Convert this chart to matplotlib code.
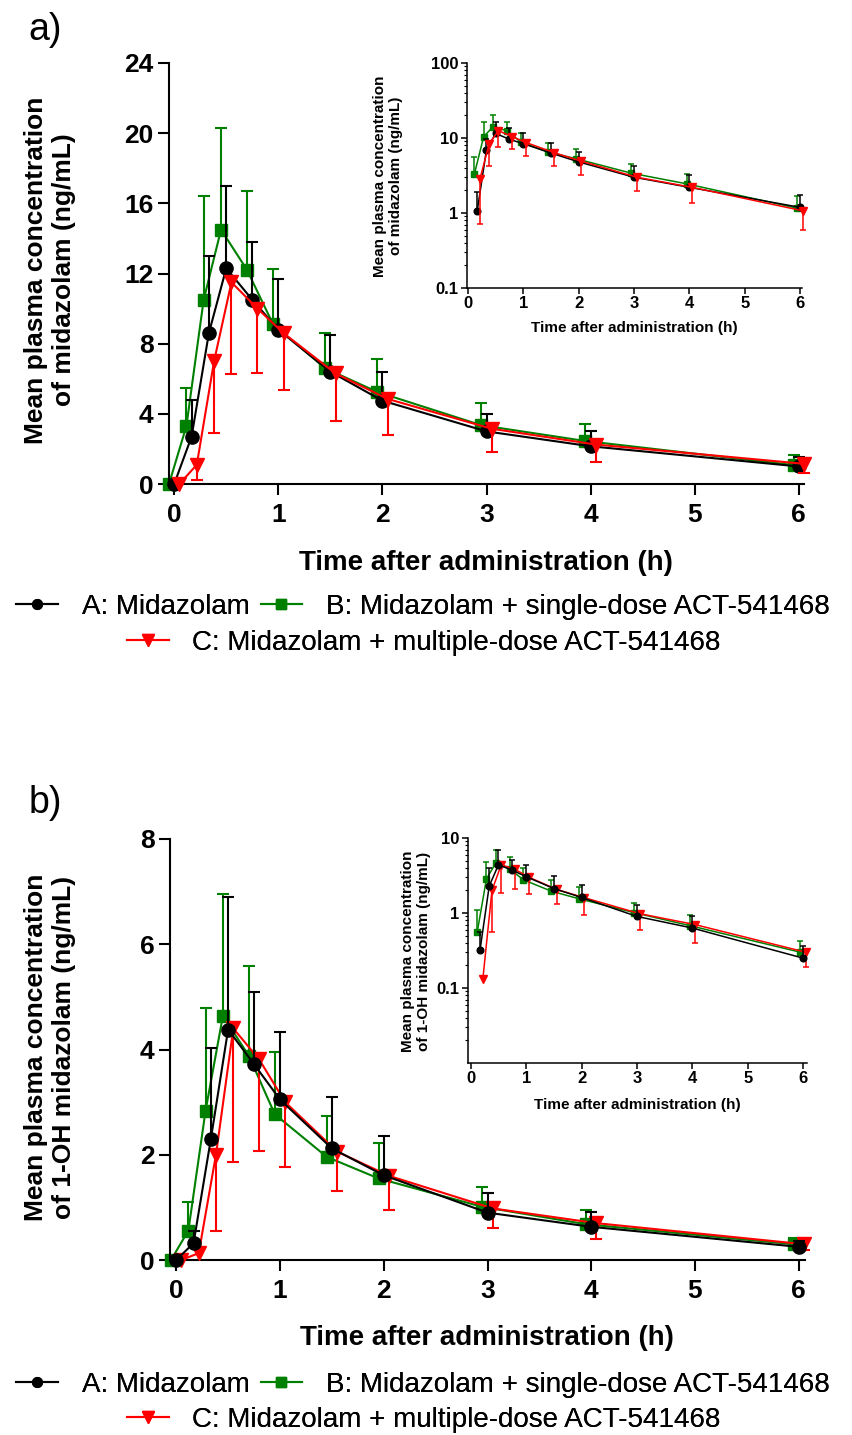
import numpy as np
import matplotlib
matplotlib.use('Agg')
import matplotlib.pyplot as plt
from matplotlib.lines import Line2D
from matplotlib.ticker import LogLocator, NullFormatter

plt.rcParams['font.family'] = ['Liberation Sans', 'DejaVu Sans']
plt.rcParams['font.weight'] = 'bold'

# nominal sampling times (h)
t_nom = np.array([0, 0.167, 0.333, 0.5, 0.75, 1, 1.5, 2, 3, 4, 6])
nan = np.nan

# a) midazolam, linear scale (mean, upper SD end for A/B, lower SD end for C)
mdz_A = np.array([0, 2.7, 8.6, 12.3, 10.5, 8.8, 6.4, 4.75, 3.0, 2.15, 1.0])
mdz_A_hi = np.array([nan, 4.8, 13.0, 17.0, 13.8, 11.7, 8.5, 6.4, 4.0, 3.0, 1.55])
mdz_B = np.array([0, 3.3, 10.5, 14.5, 12.2, 9.1, 6.6, 5.25, 3.35, 2.45, 1.08])
mdz_B_hi = np.array([nan, 5.5, 16.4, 20.3, 16.7, 12.25, 8.6, 7.1, 4.6, 3.4, 1.65])
mdz_C = np.array([0, 1.1, 7.0, 11.5, 10.0, 8.6, 6.3, 4.85, 3.15, 2.25, 1.15])
mdz_C_lo = np.array([nan, 0.25, 2.9, 6.25, 6.35, 5.35, 3.6, 2.8, 1.85, 1.25, 0.6])

# a) inset, log scale (t > 0 only)
t_log = t_nom[1:]
mdzlog_A = np.array([1.07, 6.9, 11.5, 9.6, 8.4, 6.3, 4.8, 3.0, 2.2, 1.19])
mdzlog_A_hi = np.array([1.9, 9.8, 16.5, 13.4, 11.5, 8.6, 6.5, 4.2, 3.2, 1.74])
mdzlog_B = np.array([3.34, 10.4, 14.1, 12.5, 8.9, 6.5, 5.3, 3.4, 2.45, 1.16])
mdzlog_B_hi = np.array([5.5, 16.5, 20.0, 16.5, 11.7, 8.6, 7.1, 4.55, 3.34, 1.71])
mdzlog_C = np.array([2.86, 8.4, 12.5, 10.4, 8.7, 6.4, 4.9, 3.0, 2.2, 1.07])
mdzlog_C_lo = np.array([0.71, 4.2, 7.6, 7.2, 5.7, 4.2, 3.2, 1.95, 1.35, 0.6])

# b) 1-OH midazolam
oh_A = np.array([0, 0.32, 2.29, 4.38, 3.72, 3.05, 2.12, 1.61, 0.90, 0.63, 0.25])
oh_A_hi = np.array([nan, 0.56, 4.02, 6.9, 5.09, 4.34, 3.10, 2.36, 1.28, 0.92, 0.36])
oh_B = np.array([0, 0.56, 2.84, 4.64, 3.88, 2.77, 1.96, 1.55, 1.01, 0.68, 0.30])
oh_B_hi = np.array([nan, 1.10, 4.79, 6.95, 5.59, 3.96, 2.74, 2.22, 1.38, 0.95, 0.42])
oh_C = np.array([0, 0.13, 2.0, 4.40, 3.81, 3.0, 2.06, 1.60, 0.98, 0.70, 0.30])
oh_C_lo = np.array([nan, nan, 0.56, 1.86, 2.07, 1.77, 1.31, 0.95, 0.60, 0.40, 0.19])

labels = ['A: Midazolam', 'B: Midazolam + single-dose ACT-541468',
          'C: Midazolam + multiple-dose ACT-541468']
colors = ['black', '#008000', '#ff0000']
markers = ['o', 's', 'v']
shift = [0, -0.05, 0.05]   # small horizontal nudge as in the original

W, H = 852, 1435
fig = plt.figure(figsize=(W / 100, H / 100), dpi=100)


def rect(l, t, r, b):
    return [l / W, 1 - b / H, (r - l) / W, (b - t) / H]


def draw(ax, t, y, end, k, z, big=True):
    x = t + shift[k]
    ok = ~np.isnan(end)
    lw = 1.5 if big else 1.1
    ms = [9.5, 8.5, 10][k] if big else [4.8, 4.8, 5.8][k]
    capw = 8 if big else 4.5
    ax.vlines(x[ok], y[ok], end[ok], colors=colors[k], lw=lw, zorder=z,
              clip_on=False)
    ax.plot(x[ok], end[ok], ls='none', marker='_', ms=capw, mew=lw,
            color=colors[k], zorder=z, clip_on=False)
    ax.plot(x, y, color=colors[k], lw=lw, marker=markers[k], ms=ms,
            zorder=z + 0.5, clip_on=False)


def style_main(ax, ymax, ystep):
    for s in ['top', 'right']:
        ax.spines[s].set_visible(False)
    for s in ['left', 'bottom']:
        ax.spines[s].set_linewidth(1.5)
    ax.set_ylim(0, ymax)
    ax.set_yticks(np.arange(0, ymax + 0.1, ystep))
    ax.set_xticks(range(7))
    ax.tick_params(width=1.5, length=8, labelsize=19)
    ax.tick_params(axis='x', pad=6)
    ax.tick_params(axis='y', pad=3)


def style_inset(ax, ticks, ticklabels, ylo, yhi):
    for s in ['top', 'right']:
        ax.spines[s].set_visible(False)
    for s in ['left', 'bottom']:
        ax.spines[s].set_linewidth(1.1)
    ax.set_yscale('log')
    ax.set_ylim(ylo, yhi)
    ax.set_yticks(ticks)
    ax.set_yticklabels(ticklabels)
    ax.yaxis.set_minor_locator(LogLocator(base=10, subs=np.arange(2, 10)))
    ax.yaxis.set_minor_formatter(NullFormatter())
    ax.set_xticks(range(7))
    ax.tick_params(width=1.1, length=4, labelsize=12, pad=2)
    ax.tick_params(which='minor', width=0.8, length=2.5)


# ---------------- panel a ----------------
axa = fig.add_axes(rect(169, 63, 804, 484))
draw(axa, t_nom, mdz_B, mdz_B_hi, 1, 2)
draw(axa, t_nom, mdz_A, mdz_A_hi, 0, 3)
draw(axa, t_nom, mdz_C, mdz_C_lo, 2, 4)
axa.set_xlim(-0.05, 6.05)
style_main(axa, 24, 4)

ina = fig.add_axes(rect(467, 63, 802, 288))
draw(ina, t_log, mdzlog_B, mdzlog_B_hi, 1, 2, big=False)
draw(ina, t_log, mdzlog_A, mdzlog_A_hi, 0, 3, big=False)
draw(ina, t_log, mdzlog_C, mdzlog_C_lo, 2, 4, big=False)
ina.set_xlim(-0.018, 6.036)
style_inset(ina, [0.1, 1, 10, 100], ['0.1', '1', '10', '100'], 0.1, 100)

fig.text(45 / W, 1 - 30 / H, 'a)', fontsize=27, fontweight='normal',
         ha='center', va='center')
fig.text(50 / W, 1 - 270 / H, 'Mean plasma concentration\nof midazolam (ng/mL)',
         fontsize=19, rotation=90, ha='center', va='center', linespacing=1.25)
fig.text(486 / W, 1 - 563 / H, 'Time after administration (h)', fontsize=20,
         ha='center', va='center')
fig.text(388 / W, 1 - 176 / H, 'Mean plasma concentration\nof midazolam (ng/mL)',
         fontsize=11, rotation=90, ha='center', va='center', linespacing=1.2)
fig.text(634 / W, 1 - 328 / H, 'Time after administration (h)', fontsize=11,
         ha='center', va='center')

# ---------------- panel b ----------------
axb = fig.add_axes(rect(170, 839, 805, 1260))
draw(axb, t_nom, oh_B, oh_B_hi, 1, 2)
draw(axb, t_nom, oh_C, oh_C_lo, 2, 3)
draw(axb, t_nom, oh_A, oh_A_hi, 0, 4)
axb.set_xlim(-0.06, 6.06)
style_main(axb, 8, 2)

inb = fig.add_axes(rect(468, 838, 807, 1063))
draw(inb, t_nom[1:], oh_B[1:], oh_B_hi[1:], 1, 2, big=False)
draw(inb, t_nom[1:], oh_C[1:], oh_C_lo[1:], 2, 3, big=False)
draw(inb, t_nom[1:], oh_A[1:], oh_A_hi[1:], 0, 4, big=False)
inb.set_xlim(-0.05, 6.07)
style_inset(inb, [0.1, 1, 10], ['0.1', '1', '10'], 0.01, 10)

fig.text(45 / W, 1 - 803 / H, 'b)', fontsize=27, fontweight='normal',
         ha='center', va='center')
fig.text(50 / W, 1 - 1047 / H, 'Mean plasma concentration\nof 1-OH midazolam (ng/mL)',
         fontsize=19, rotation=90, ha='center', va='center', linespacing=1.25)
fig.text(487 / W, 1 - 1338 / H, 'Time after administration (h)', fontsize=20,
         ha='center', va='center')
fig.text(416 / W, 1 - 951 / H, 'Mean plasma concentration\nof 1-OH midazolam (ng/mL)',
         fontsize=11, rotation=90, ha='center', va='center', linespacing=1.2)
fig.text(637 / W, 1 - 1105 / H, 'Time after administration (h)', fontsize=11,
         ha='center', va='center')

# ---------------- legends ----------------
handles = [Line2D([], [], color=colors[k], lw=1.5, marker=markers[k],
                  ms=[7, 6.5, 8][k]) for k in range(3)]
leg_kw = dict(loc='center', frameon=False, handlelength=1.5,
              handletextpad=0.85, columnspacing=0.4, borderpad=0,
              borderaxespad=0, prop={'weight': 'normal', 'size': 20})
for y1, y2 in [(607, 643), (1385, 1420)]:
    l1 = fig.legend(handles[:2], labels[:2], ncol=2,
                    bbox_to_anchor=(423 / W, 1 - y1 / H), **leg_kw)
    fig.add_artist(l1)
    l2 = fig.legend(handles[2:], labels[2:],
                    bbox_to_anchor=(424 / W, 1 - y2 / H), **leg_kw)
    fig.add_artist(l2)

fig.savefig('out.png', dpi=100)
